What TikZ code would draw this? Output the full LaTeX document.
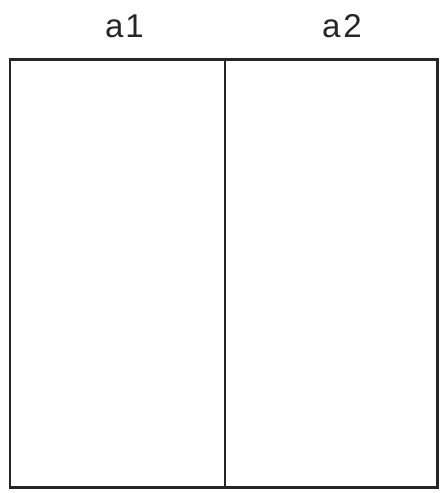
\documentclass[tikz,border=0pt]{standalone}
\usepackage{fontspec}
\setmainfont{Liberation Sans}
\begin{document}
\begin{tikzpicture}[x=1pt,y=-1pt,
  cell/.style={draw=black!85,line width=2.4pt,rectangle,minimum height=428pt,inner sep=0pt},
  lab/.style={anchor=base,font=\fontsize{33}{35}\selectfont,text=black!85,inner sep=0pt}]
\useasboundingbox (0,0) rectangle (442,493);
\node[cell,minimum width=215pt] (c1) at (117.5,273.5) {};
\node[cell,minimum width=212.5pt] (c2) at (331.25,273.5) {};
\node[lab] (a1) at (124.5,37) {a\kern2pt 1};
\node[lab] (a2) at (342,37) {a\kern3pt 2};
\end{tikzpicture}
\end{document}
